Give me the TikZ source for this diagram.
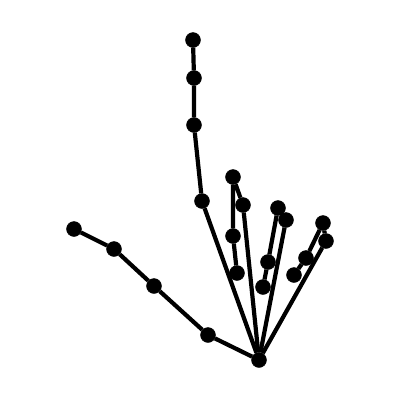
\documentclass[tikz,border=0pt]{standalone}
\usepackage{tikz}
\usetikzlibrary{positioning}

\begin{document}
\begin{tikzpicture}[x=1pt, y=-1pt, joint/.style={draw, circle, fill=black, inner sep=0pt, minimum size=15pt}, bone/.style={line width=4.2pt}]
  \useasboundingbox (0,0) rectangle (400,400);
  % wrist
  \node[joint] (wrist) at (259,360) {};
  % thumb
  \node[joint] (thumbA) at (208,335) {};
  \node[joint] (thumbB) at (154,286) {};
  \node[joint] (thumbC) at (114,249) {};
  \node[joint] (thumbD) at (74,229) {};
  % index
  \node[joint] (indexA) at (202,201) {};
  \node[joint] (indexB) at (194,125) {};
  \node[joint] (indexC) at (194,78) {};
  \node[joint] (indexD) at (193,40) {};
  % middle
  \node[joint] (middleA) at (243,205) {};
  \node[joint] (middleB) at (233,177) {};
  \node[joint] (middleC) at (233,236) {};
  \node[joint] (middleD) at (237,273) {};
  % ring
  \node[joint] (ringA) at (286,220) {};
  \node[joint] (ringB) at (278,208) {};
  \node[joint] (ringC) at (268,262) {};
  \node[joint] (ringD) at (263,287) {};
  % pinky
  \node[joint] (pinkyA) at (326,241) {};
  \node[joint] (pinkyB) at (323,223) {};
  \node[joint] (pinkyC) at (306,258) {};
  \node[joint] (pinkyD) at (294,275) {};

  \draw[bone] (wrist) -- (thumbA) -- (thumbB) -- (thumbC) -- (thumbD);
  \draw[bone] (wrist) -- (indexA) -- (indexB) -- (indexC) -- (indexD);
  \draw[bone] (wrist) -- (middleA) -- (middleB) -- (middleC) -- (middleD);
  \draw[bone] (wrist) -- (ringA) -- (ringB) -- (ringC) -- (ringD);
  \draw[bone] (wrist) -- (pinkyA) -- (pinkyB) -- (pinkyC) -- (pinkyD);
\end{tikzpicture}
\end{document}
